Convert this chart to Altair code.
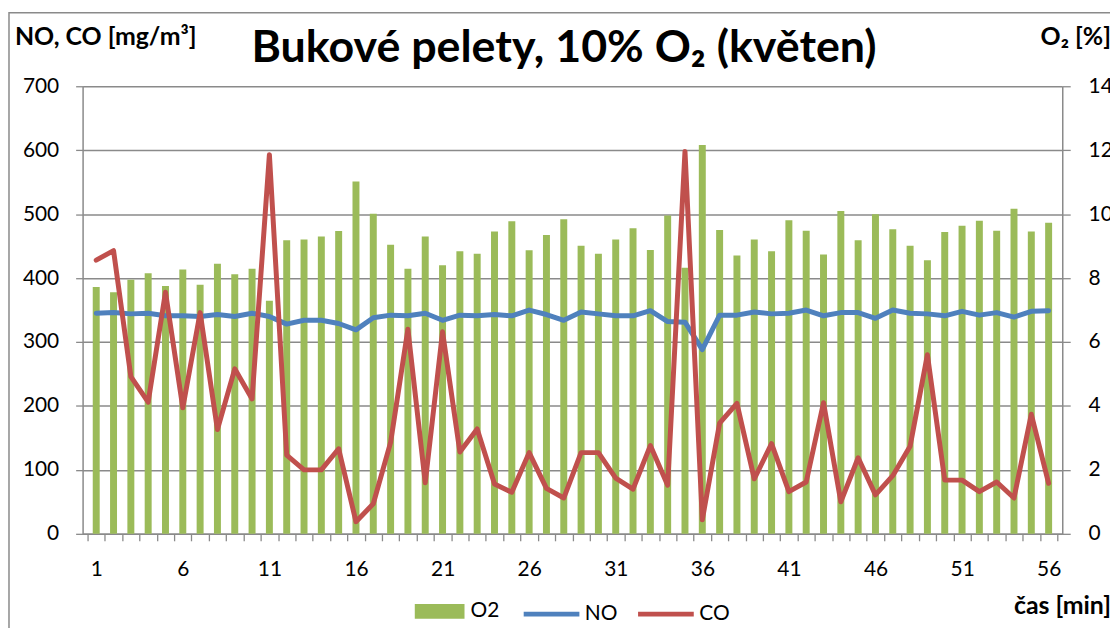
import altair as alt
import pandas as pd

minutes = list(range(1, 57))

o2 = [7.72, 7.56, 7.95, 8.15, 7.75, 8.27, 7.79, 8.45, 8.12, 8.29,
      7.29, 9.18, 9.21, 9.30, 9.47, 11.02, 10.01, 9.04, 8.29, 9.30,
      8.40, 8.84, 8.76, 9.46, 9.78, 8.87, 9.35, 9.84, 9.01, 8.76,
      9.21, 9.56, 8.88, 9.96, 8.32, 12.16, 9.50, 8.71, 9.21, 8.84,
      9.81, 9.48, 8.74, 10.10, 9.18, 10.00, 9.53, 9.01, 8.56, 9.44,
      9.64, 9.79, 9.48, 10.17, 9.46, 9.73]

no = [345, 346, 344, 345, 341, 341, 340, 343, 340, 345,
      340, 328, 334, 334, 329, 319, 338, 342, 341, 345,
      334, 342, 341, 343, 341, 350, 343, 334, 347, 344,
      341, 341, 349, 332, 331, 288, 342, 342, 347, 344,
      345, 350, 341, 346, 346, 337, 350, 345, 344, 341,
      348, 342, 346, 339, 348, 349]

co = [428, 443, 246, 206, 378, 197, 346, 163, 258, 211,
      593, 123, 100, 100, 133, 19, 47, 143, 320, 80,
      316, 128, 164, 78, 65, 127, 71, 56, 127, 127,
      87, 70, 138, 76, 598, 22, 173, 204, 86, 141,
      66, 81, 205, 50, 119, 61, 91, 137, 280, 84,
      84, 66, 81, 56, 187, 79]

left_ticks = [0, 100, 200, 300, 400, 500, 600, 700]
right_ticks = [0, 2, 4, 6, 8, 10, 12, 14]
x_tick_values = [i + 0.5 for i in range(0, 57)]

title_text = "Bukové pelety, 10% O₂ (květen)"
left_title = "NO, CO [mg/m³]"
right_title = "O₂ [%]"
x_title = "čas [min]"

FONT = "Lato"
GRID = "#8a8a8a"
GREEN = "#9BBB59"
BLUE = "#4F81BD"
RED = "#C0504D"

bars_df = pd.DataFrame({"t": minutes, "O2": o2, "series": ["O2"] * len(minutes)})
lines_df = pd.concat([
    pd.DataFrame({"t": minutes, "value": no, "series": ["NO"] * len(minutes)}),
    pd.DataFrame({"t": minutes, "value": co, "series": ["CO"] * len(minutes)}),
], ignore_index=True)

x_scale = alt.Scale(domain=[0.5, 56.5], nice=False, zero=False)
x_axis = alt.Axis(
    values=x_tick_values,
    labelExpr="((datum.value - 0.5) % 5 == 0 && datum.value < 56) ? format(datum.value + 0.5, 'd') : ''",
    labelOffset=8.8, labelFlush=False, labelOverlap=False,
    tickSize=7, tickColor=GRID, tickWidth=1.3,
    domainColor=GRID, domainWidth=1.5, grid=False,
    labelPadding=18, labelFontSize=21, labelFont=FONT, labelColor="black",
    title=None,
)
x_enc = alt.X("t:Q", scale=x_scale, axis=x_axis)

bars = alt.Chart(bars_df).mark_bar(size=7).encode(
    x=x_enc,
    y=alt.Y("O2:Q", scale=alt.Scale(domain=[0, 14], nice=False),
            axis=alt.Axis(orient="right", values=right_ticks, grid=False,
                          tickSize=8, tickColor=GRID, tickWidth=1.3,
                          domainColor=GRID, domainWidth=1.5,
                          labelPadding=18, labelFontSize=21, labelFont=FONT,
                          labelColor="black", title=None)),
    fill=alt.Fill("series:N", scale=alt.Scale(domain=["O2"], range=[GREEN]),
                  legend=alt.Legend(orient="none", legendX=334, legendY=503,
                                    symbolType="M-1,-0.3H1V0.3H-1Z", symbolSize=2500,
                                    symbolStrokeWidth=0, labelOffset=6,
                                    labelFont=FONT, labelFontSize=21, labelColor="black",
                                    title=None)),
)

lines = alt.Chart(lines_df).mark_line(strokeWidth=5, strokeJoin="round", strokeCap="round").encode(
    x=x_enc,
    y=alt.Y("value:Q", scale=alt.Scale(domain=[0, 700], nice=False),
            axis=alt.Axis(orient="left", values=left_ticks, grid=True,
                          gridColor=GRID, gridWidth=1.5,
                          tickSize=7, tickColor=GRID, tickWidth=1.3,
                          domainColor=GRID, domainWidth=1.5,
                          labelPadding=17, labelFontSize=21, labelFont=FONT,
                          labelColor="black", title=None)),
    stroke=alt.Stroke("series:N", scale=alt.Scale(domain=["NO", "CO"], range=[BLUE, RED]),
                      legend=alt.Legend(orient="none", direction="horizontal",
                                        legendX=441, legendY=500,
                                        symbolType="stroke", symbolSize=3136,
                                        symbolStrokeWidth=5, labelOffset=3,
                                        columnPadding=10,
                                        labelFont=FONT, labelFontSize=21, labelColor="black",
                                        title=None)),
)

one = pd.DataFrame({"k": [0]})

frame = alt.Chart(one).mark_rect(fillOpacity=0, stroke=GRID, strokeWidth=1.5).encode(
    x=alt.value(-74), x2=alt.value(1200), y=alt.value(-74), y2=alt.value(800)
)


def text_layer(text, x, y, size, align):
    return alt.Chart(one).mark_text(
        text=text, align=align, baseline="alphabetic", fontSize=size,
        font=FONT, fontWeight="bold", color="black"
    ).encode(x=alt.value(x), y=alt.value(y))


title_layer = text_layer(title_text, 484, -24, 45, "center")
left_title_layer = text_layer(left_title, -68, -41, 25, "left")
right_title_layer = text_layer(right_title, 1034, -41, 25, "right")
x_title_layer = text_layer(x_title, 1034, 531, 25, "right")

chart = alt.layer(
    frame, bars, lines, title_layer, left_title_layer, right_title_layer, x_title_layer
).resolve_scale(
    y="independent"
).properties(
    width=985, height=450,
    autosize=alt.AutoSizeParams(type="none"),
    padding={"left": 75, "top": 77, "right": 48, "bottom": 93},
    background="white",
).configure_view(stroke=None)

chart.save("out.html", embed_options={"renderer": "svg", "actions": False})
